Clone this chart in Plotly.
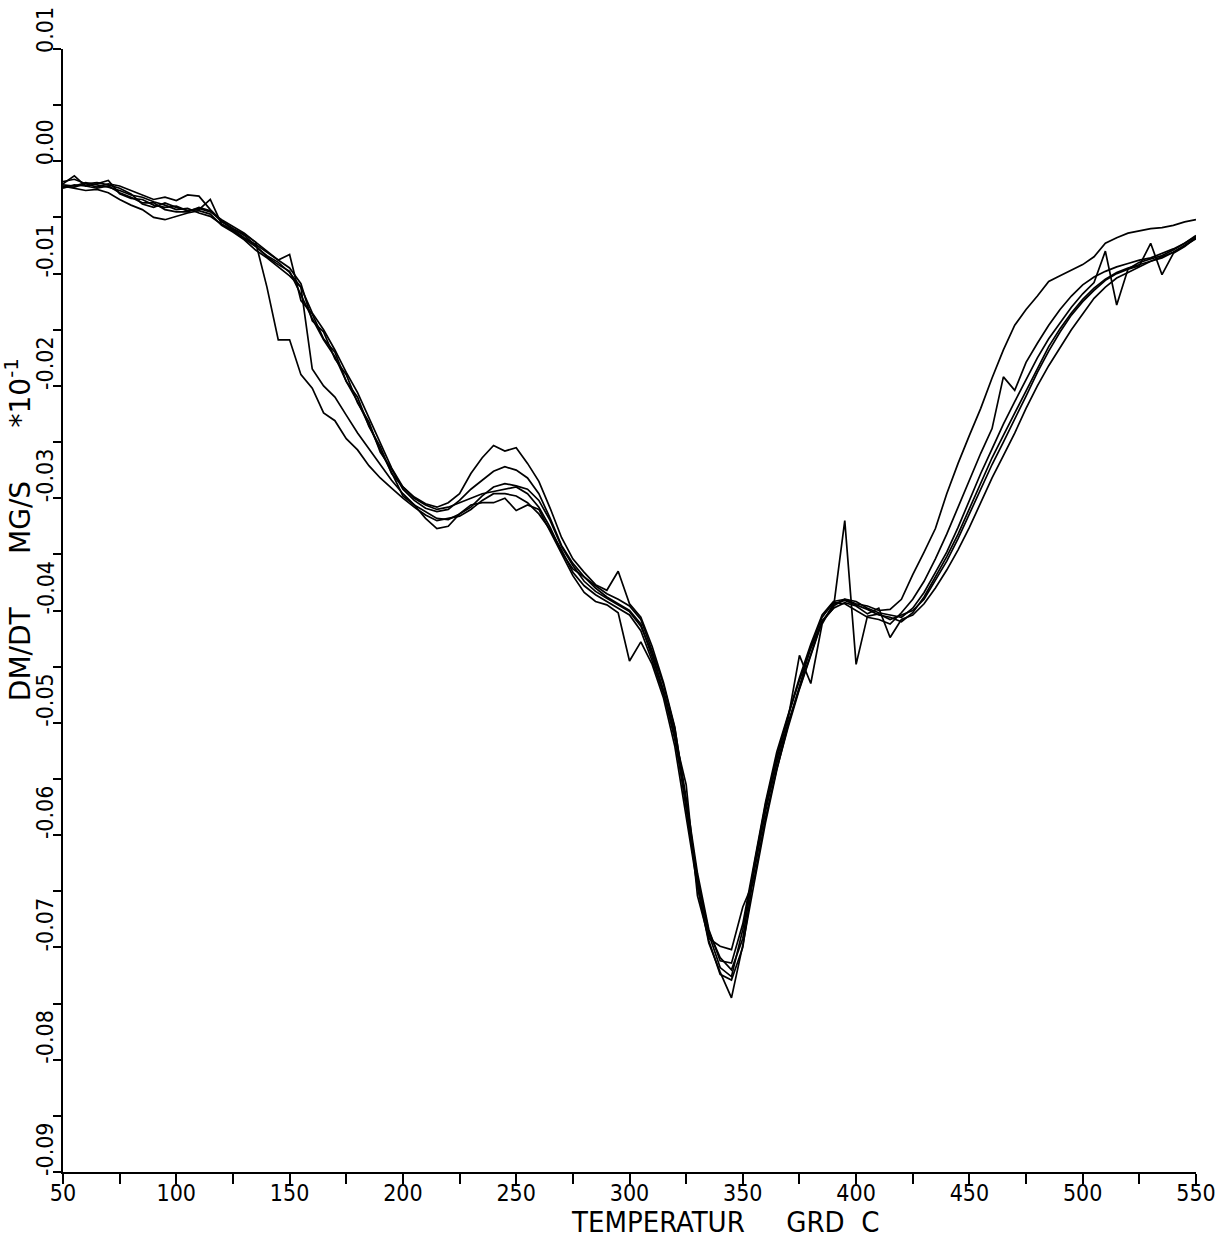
import plotly.graph_objects as go

# Temperature grid (deg C)
T = list(range(50, 551, 5))

# DM/DT values (MG/S * 10^-1), six runs
run_a = [-0.0020,-0.0013,-0.0022,-0.0020,-0.0017,-0.0029,-0.0033,-0.0034,-0.0039,-0.0041,-0.0040,-0.0044,-0.0043,-0.0034,-0.0056,-0.0062,-0.0069,-0.0076,-0.0084,-0.0090,-0.0099,
         -0.0112,-0.0135,-0.0150,-0.0168,-0.0188,-0.0206,-0.0228,-0.0250,-0.0273,
         -0.0290,-0.0300,-0.0306,-0.0310,-0.0308,-0.0304,-0.0300,-0.0296,-0.0294,-0.0292,-0.0290,-0.0296,-0.0308,-0.0326,-0.0348,
         -0.0363,-0.0370,-0.0378,-0.0385,-0.0390,-0.0396,-0.0408,-0.0436,
         -0.0466,-0.0505,-0.0567,-0.0634,-0.0684,-0.0712,-0.0714,-0.0679,
         -0.0625,-0.0571,-0.0526,-0.0492,-0.0460,-0.0430,-0.0404,-0.0392,-0.0390,-0.0394,-0.0396,-0.0400,-0.0399,
         -0.0390,-0.0368,-0.0348,-0.0327,-0.0296,-0.0269,-0.0244,-0.0220,-0.0193,-0.0168,-0.0146,-0.0132,-0.0120,-0.0107,-0.0102,-0.0097,-0.0092,-0.0085,-0.0073,-0.0068,-0.0064,-0.0062,-0.0060,-0.0059,-0.0057,-0.0054,-0.0052]

run_b = [-0.0023,-0.0023,-0.0020,-0.0019,-0.0021,-0.0024,-0.0029,-0.0038,-0.0041,-0.0037,-0.0041,-0.0044,-0.0042,-0.0045,-0.0052,-0.0058,-0.0064,-0.0072,-0.0112,-0.0159,-0.0159,
         -0.0190,-0.0202,-0.0224,-0.0231,-0.0247,-0.0257,-0.0271,-0.0282,-0.0291,
         -0.0300,-0.0308,-0.0315,-0.0320,-0.0318,-0.0316,-0.0310,-0.0302,-0.0296,-0.0296,-0.0298,-0.0304,-0.0314,-0.0328,-0.0346,
         -0.0366,-0.0378,-0.0386,-0.0392,-0.0398,-0.0404,-0.0418,-0.0445,
         -0.0474,-0.0513,-0.0555,-0.0654,-0.0692,-0.0699,-0.0702,-0.0664,
         -0.0640,-0.0585,-0.0541,-0.0504,-0.0470,-0.0440,-0.0410,-0.0398,-0.0393,-0.0396,-0.0403,-0.0398,-0.0424,
         -0.0408,-0.0404,-0.0394,-0.0380,-0.0364,-0.0346,-0.0326,-0.0304,-0.0282,-0.0262,-0.0242,-0.0220,-0.0200,-0.0182,-0.0166,-0.0150,-0.0136,-0.0122,-0.0112,-0.0104,-0.0099,-0.0094,-0.0089,-0.0086,-0.0081,-0.0075,-0.0069]

run_c = [-0.0022,-0.0024,-0.0026,-0.0025,-0.0028,-0.0034,-0.0039,-0.0043,-0.0050,-0.0052,-0.0049,-0.0046,-0.0044,-0.0047,-0.0057,-0.0063,-0.0070,-0.0079,-0.0086,-0.0094,-0.0102,
         -0.0112,-0.0185,-0.0200,-0.0210,-0.0226,-0.0242,-0.0256,-0.0270,-0.0284,
         -0.0296,-0.0306,-0.0318,-0.0327,-0.0325,-0.0314,-0.0306,-0.0304,-0.0304,-0.0300,-0.0311,-0.0306,-0.0310,-0.0330,-0.0350,
         -0.0369,-0.0384,-0.0392,-0.0395,-0.0402,-0.0445,-0.0428,-0.0448,
         -0.0478,-0.0521,-0.0583,-0.0646,-0.0696,-0.0722,-0.0745,-0.0698,
         -0.0643,-0.0589,-0.0542,-0.0502,-0.0468,-0.0432,-0.0406,-0.0393,-0.0394,-0.0400,-0.0406,-0.0408,-0.0412,
         -0.0402,-0.0390,-0.0374,-0.0354,-0.0332,-0.0308,-0.0284,-0.0260,-0.0238,-0.0192,-0.0204,-0.0179,-0.0162,-0.0146,-0.0132,-0.0120,-0.0110,-0.0103,-0.0098,-0.0094,-0.0091,-0.0088,-0.0086,-0.0082,-0.0078,-0.0073,-0.0066]

run_d = [-0.0018,-0.0016,-0.0020,-0.0023,-0.0020,-0.0022,-0.0026,-0.0030,-0.0034,-0.0032,-0.0035,-0.0030,-0.0031,-0.0043,-0.0053,-0.0060,-0.0065,-0.0072,-0.0080,-0.0088,-0.0083,
         -0.0124,-0.0136,-0.0158,-0.0170,-0.0196,-0.0210,-0.0236,-0.0254,-0.0278,
         -0.0290,-0.0299,-0.0305,-0.0308,-0.0304,-0.0296,-0.0278,-0.0264,-0.0253,-0.0258,-0.0255,-0.0269,-0.0285,-0.0309,-0.0335,
         -0.0354,-0.0366,-0.0377,-0.0382,-0.0365,-0.0394,-0.0406,-0.0432,
         -0.0464,-0.0504,-0.0570,-0.0639,-0.0686,-0.0709,-0.0720,-0.0692,
         -0.0627,-0.0573,-0.0530,-0.0494,-0.0462,-0.0434,-0.0410,-0.0396,-0.0390,-0.0392,-0.0398,-0.0402,-0.0404,
         -0.0406,-0.0398,-0.0384,-0.0366,-0.0348,-0.0326,-0.0302,-0.0278,-0.0256,-0.0234,-0.0214,-0.0194,-0.0175,-0.0158,-0.0144,-0.0130,-0.0118,-0.0108,-0.0080,-0.0128,-0.0096,-0.0090,-0.0087,-0.0084,-0.0079,-0.0073,-0.0067]

run_e = [-0.0021,-0.0022,-0.0019,-0.0021,-0.0023,-0.0026,-0.0030,-0.0032,-0.0036,-0.0039,-0.0043,-0.0042,-0.0046,-0.0049,-0.0056,-0.0061,-0.0068,-0.0074,-0.0081,-0.0088,-0.0095,
         -0.0109,-0.0142,-0.0152,-0.0176,-0.0190,-0.0215,-0.0232,-0.0259,-0.0274,
         -0.0292,-0.0302,-0.0309,-0.0312,-0.0310,-0.0302,-0.0292,-0.0284,-0.0276,-0.0272,-0.0275,-0.0282,-0.0296,-0.0318,-0.0342,
         -0.0358,-0.0370,-0.0380,-0.0388,-0.0394,-0.0400,-0.0412,-0.0442,
         -0.0471,-0.0509,-0.0578,-0.0644,-0.0694,-0.0724,-0.0729,-0.0700,
         -0.0633,-0.0579,-0.0536,-0.0500,-0.0469,-0.0438,-0.0409,-0.0398,-0.0320,-0.0448,-0.0405,-0.0403,-0.0408,
         -0.0404,-0.0400,-0.0390,-0.0373,-0.0356,-0.0336,-0.0314,-0.0292,-0.0270,-0.0250,-0.0230,-0.0209,-0.0188,-0.0169,-0.0152,-0.0137,-0.0125,-0.0115,-0.0106,-0.0100,-0.0096,-0.0093,-0.0073,-0.0101,-0.0082,-0.0076,-0.0068]

run_f = [-0.0024,-0.0021,-0.0022,-0.0024,-0.0022,-0.0028,-0.0032,-0.0037,-0.0037,-0.0043,-0.0045,-0.0045,-0.0041,-0.0044,-0.0054,-0.0060,-0.0066,-0.0075,-0.0085,-0.0092,-0.0098,
         -0.0119,-0.0140,-0.0159,-0.0174,-0.0196,-0.0214,-0.0235,-0.0257,-0.0277,
         -0.0298,-0.0306,-0.0312,-0.0318,-0.0319,-0.0314,-0.0308,-0.0298,-0.0290,-0.0287,-0.0289,-0.0292,-0.0302,-0.0320,-0.0343,
         -0.0360,-0.0374,-0.0383,-0.0389,-0.0395,-0.0401,-0.0414,-0.0438,
         -0.0472,-0.0515,-0.0572,-0.0638,-0.0688,-0.0718,-0.0726,-0.0684,
         -0.0629,-0.0575,-0.0532,-0.0496,-0.0440,-0.0465,-0.0412,-0.0394,-0.0391,-0.0395,-0.0399,-0.0404,-0.0406,
         -0.0410,-0.0402,-0.0388,-0.0370,-0.0352,-0.0332,-0.0309,-0.0286,-0.0264,-0.0244,-0.0224,-0.0204,-0.0184,-0.0165,-0.0149,-0.0135,-0.0123,-0.0113,-0.0105,-0.0099,-0.0095,-0.0092,-0.0089,-0.0085,-0.0081,-0.0075,-0.0068]

runs = [run_a, run_b, run_c, run_d, run_e, run_f]

X_TICKS = [50, 100, 150, 200, 250, 300, 350, 400, 450, 500, 550]
Y_TICKS = [0.01, 0.00, -0.01, -0.02, -0.03, -0.04, -0.05, -0.06, -0.07, -0.08, -0.09]
Y_TICK_TEXT = ["0.01", "0.00", "-0.01", "-0.02", "-0.03", "-0.04", "-0.05", "-0.06", "-0.07", "-0.08", "-0.09"]

FONT_C = "DejaVu Sans Condensed, DejaVu Sans, sans-serif"
FONT = "DejaVu Sans, sans-serif"

fig = go.Figure()
for r in runs:
    fig.add_trace(go.Scatter(x=T, y=r, mode="lines",
                             line=dict(color="black", width=1.7),
                             showlegend=False, hoverinfo="skip"))

annotations = []
for v, s in zip(Y_TICKS, Y_TICK_TEXT):
    annotations.append(dict(x=0, xref="paper", y=v, yref="y", text=s, textangle=-90,
                            showarrow=False, xanchor="right", yanchor="bottom",
                            xshift=-3, yshift=-6, font=dict(family=FONT_C, size=23, color="black")))

NB = "\u00a0"
annotations.append(dict(x=0, xref="paper", y=0.572, yref="paper",
                        text="DM/DT" + NB * 6 + "MG/S" + NB * 6 + "*10<sup>-1</sup>",
                        textangle=-90, showarrow=False, xanchor="right", yanchor="middle",
                        xshift=-24, font=dict(family=FONT, size=28, color="black")))
annotations.append(dict(x=0.585, xref="paper", y=0, yref="paper",
                        text="TEMPERATUR" + NB * 5 + "GRD" + NB * 2 + "C",
                        showarrow=False, xanchor="center", yanchor="top",
                        yshift=-31, font=dict(family=FONT_C, size=29, color="black")))

fig.update_layout(
    width=1229, height=1239,
    margin=dict(l=63, r=33, t=49, b=67),
    paper_bgcolor="white", plot_bgcolor="white",
    annotations=annotations,
    xaxis=dict(range=[50, 550], tickvals=X_TICKS, ticktext=[str(v) for v in X_TICKS],
               showgrid=False, zeroline=False, showline=True, linecolor="black", linewidth=2,
               ticks="outside", ticklen=10, tickwidth=2, tickcolor="black", ticklabelstandoff=-11,
               minor=dict(dtick=25, tick0=75, ticks="outside", ticklen=10, tickwidth=2, tickcolor="black", showgrid=False),
               tickfont=dict(family=FONT_C, size=23, color="black")),
    yaxis=dict(range=[-0.09, 0.01], tickvals=Y_TICKS, showticklabels=False,
               showgrid=False, zeroline=False, showline=True, linecolor="black", linewidth=2,
               ticks="outside", ticklen=8, tickwidth=2, tickcolor="black",
               minor=dict(dtick=0.005, ticks="outside", ticklen=8, tickwidth=2, tickcolor="black", showgrid=False)),
)

fig.write_html("out.html")
